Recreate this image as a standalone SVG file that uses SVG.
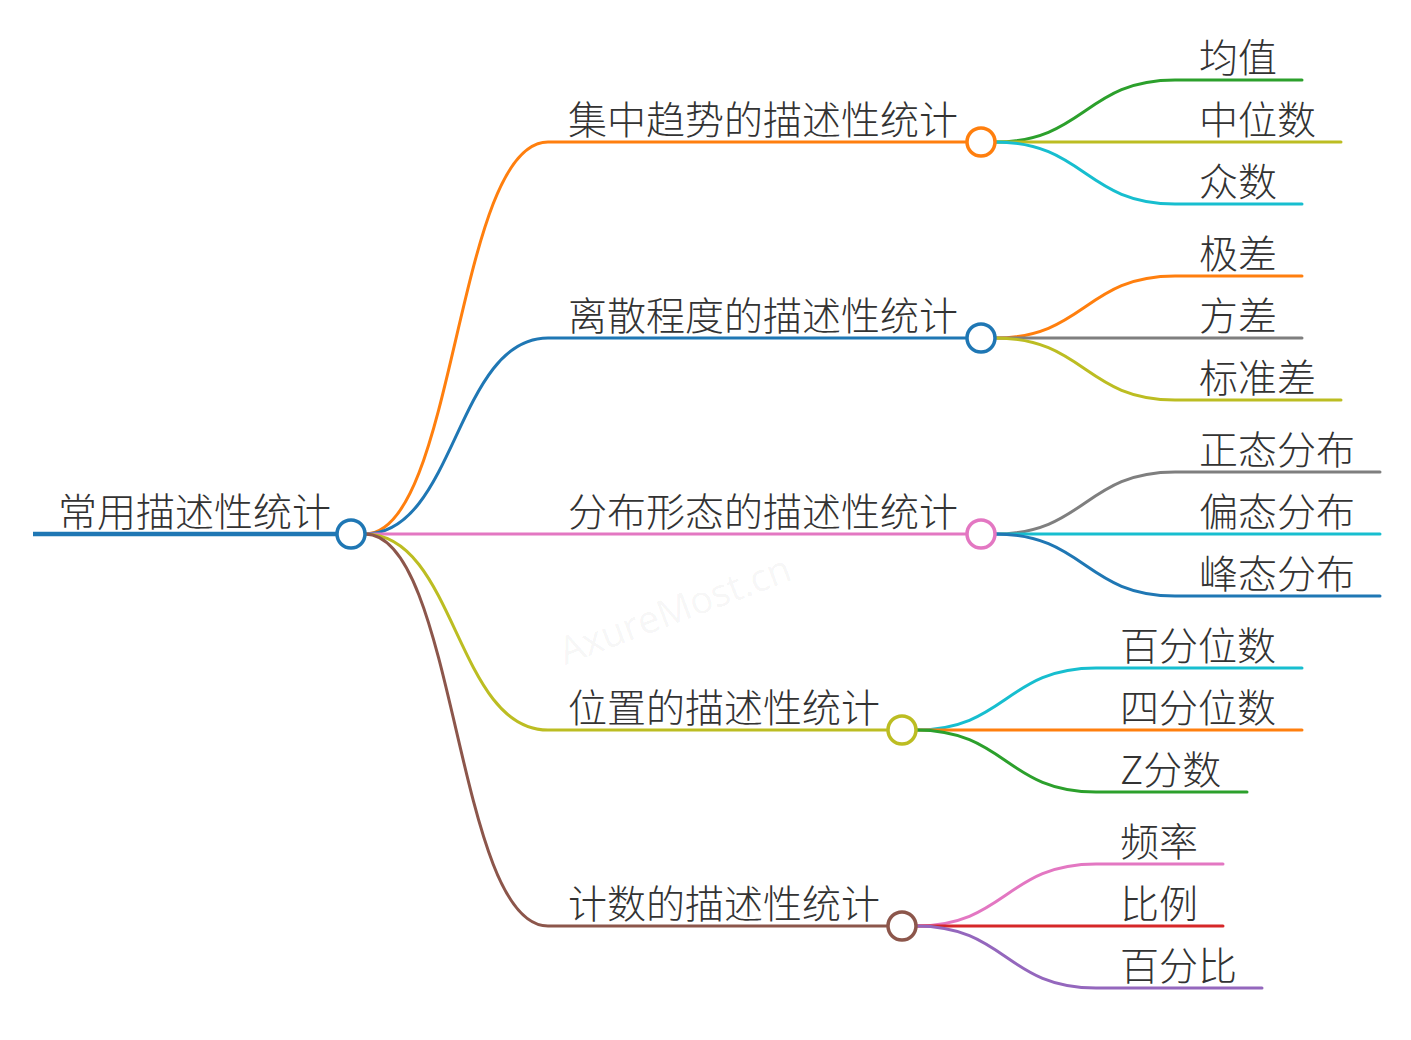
<svg xmlns="http://www.w3.org/2000/svg" width="1411" height="1040" viewBox="0 0 1411 1040">
<style>
.t{font-family:"Noto Sans CJK SC","Noto Sans",sans-serif;font-size:39px;fill:#333;font-weight:300}
.c{fill:none;stroke-width:3;stroke-linecap:round}
.n{fill:#fff;stroke-width:3.5}
.wm{font-family:"Open Sans","Noto Sans",sans-serif;font-size:38px;fill:#000;fill-opacity:0.05}
</style>
<rect width="1411" height="1040" fill="#fff"/>
<text class="wm" x="675" y="623" text-anchor="middle" transform="rotate(-20.5 675 610)">AxureMost.cn</text>
<g id="connectors">
<line x1="33" y1="534" x2="337" y2="534" stroke="#1f77b4" stroke-width="4.5"/>
<path class="c" stroke="#ff7f0e" d="M365,534 C456,534 456,142 548,142 L967,142"/>
<path class="c" stroke="#1f77b4" d="M365,534 C456,534 456,338 548,338 L967,338"/>
<path class="c" stroke="#e377c2" d="M365,534 L967,534"/>
<path class="c" stroke="#bcbd22" d="M365,534 C456,534 456,730 548,730 L888,730"/>
<path class="c" stroke="#8c564b" d="M365,534 C456,534 456,926 548,926 L888,926"/>
<path class="c" stroke="#2ca02c" d="M995,142 C1085,142 1085,80 1175,80 L1302,80"/>
<path class="c" stroke="#bcbd22" d="M995,142 L1341,142"/>
<path class="c" stroke="#17becf" d="M995,142 C1085,142 1085,204 1175,204 L1302,204"/>
<path class="c" stroke="#ff7f0e" d="M995,338 C1085,338 1085,276 1175,276 L1302,276"/>
<path class="c" stroke="#7f7f7f" d="M995,338 L1302,338"/>
<path class="c" stroke="#bcbd22" d="M995,338 C1085,338 1085,400 1175,400 L1341,400"/>
<path class="c" stroke="#7f7f7f" d="M995,534 C1085,534 1085,472 1175,472 L1380,472"/>
<path class="c" stroke="#17becf" d="M995,534 L1380,534"/>
<path class="c" stroke="#1f77b4" d="M995,534 C1085,534 1085,596 1175,596 L1380,596"/>
<path class="c" stroke="#17becf" d="M916,730 C1006,730 1006,668 1096,668 L1302,668"/>
<path class="c" stroke="#ff7f0e" d="M916,730 L1302,730"/>
<path class="c" stroke="#2ca02c" d="M916,730 C1006,730 1006,792 1096,792 L1247,792"/>
<path class="c" stroke="#e377c2" d="M916,926 C1006,926 1006,864 1096,864 L1223,864"/>
<path class="c" stroke="#d62728" d="M916,926 L1223,926"/>
<path class="c" stroke="#9467bd" d="M916,926 C1006,926 1006,988 1096,988 L1262,988"/>
</g>
<g id="root"><circle class="n" cx="351" cy="534" r="14" stroke="#1f77b4"/><text class="t" x="58" y="526">常用描述性统计</text></g>
<g id="b1"><circle class="n" cx="981" cy="142" r="14" stroke="#ff7f0e"/><text class="t" x="568" y="134">集中趋势的描述性统计</text></g>
<g id="b2"><circle class="n" cx="981" cy="338" r="14" stroke="#1f77b4"/><text class="t" x="568" y="330">离散程度的描述性统计</text></g>
<g id="b3"><circle class="n" cx="981" cy="534" r="14" stroke="#e377c2"/><text class="t" x="568" y="526">分布形态的描述性统计</text></g>
<g id="b4"><circle class="n" cx="902" cy="730" r="14" stroke="#bcbd22"/><text class="t" x="568" y="722">位置的描述性统计</text></g>
<g id="b5"><circle class="n" cx="902" cy="926" r="14" stroke="#8c564b"/><text class="t" x="568" y="918">计数的描述性统计</text></g>
<g id="l1"><text class="t" x="1199" y="72">均值</text></g>
<g id="l2"><text class="t" x="1199" y="134">中位数</text></g>
<g id="l3"><text class="t" x="1199" y="196">众数</text></g>
<g id="l4"><text class="t" x="1199" y="268">极差</text></g>
<g id="l5"><text class="t" x="1199" y="330">方差</text></g>
<g id="l6"><text class="t" x="1199" y="392">标准差</text></g>
<g id="l7"><text class="t" x="1199" y="464">正态分布</text></g>
<g id="l8"><text class="t" x="1199" y="526">偏态分布</text></g>
<g id="l9"><text class="t" x="1199" y="588">峰态分布</text></g>
<g id="l10"><text class="t" x="1120" y="660">百分位数</text></g>
<g id="l11"><text class="t" x="1120" y="722">四分位数</text></g>
<g id="l12"><text class="t" x="1120" y="784">Z分数</text></g>
<g id="l13"><text class="t" x="1120" y="856">频率</text></g>
<g id="l14"><text class="t" x="1120" y="918">比例</text></g>
<g id="l15"><text class="t" x="1120" y="980">百分比</text></g>
</svg>
